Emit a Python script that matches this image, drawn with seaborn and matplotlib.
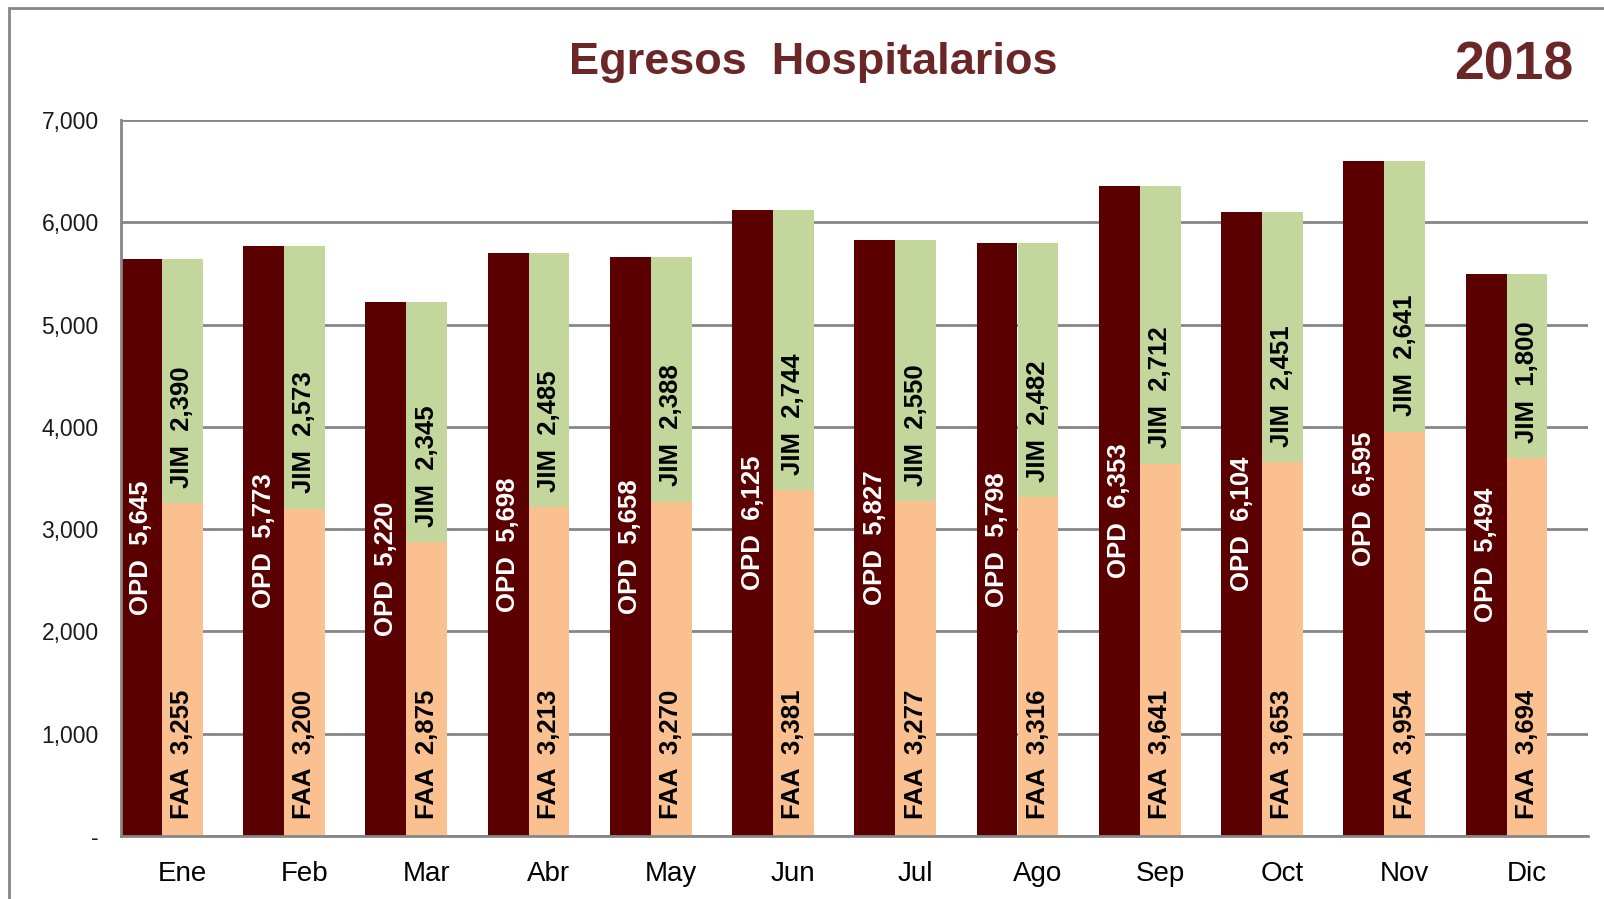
import matplotlib
matplotlib.use("Agg")
import matplotlib.pyplot as plt
import matplotlib.patches as mpatches
from matplotlib.ticker import FixedLocator
import seaborn as sns
import pandas as pd

# data
meses = ['Ene', 'Feb', 'Mar', 'Abr', 'May', 'Jun', 'Jul', 'Ago', 'Sep', 'Oct', 'Nov', 'Dic']
opd = [5645, 5773, 5220, 5698, 5658, 6125, 5827, 5798, 6353, 6104, 6595, 5494]
faa = [3255, 3200, 2875, 3213, 3270, 3381, 3277, 3316, 3641, 3653, 3954, 3694]
jim = [2390, 2573, 2345, 2485, 2388, 2744, 2550, 2482, 2712, 2451, 2641, 1800]
yticks = [0, 1000, 2000, 3000, 4000, 5000, 6000, 7000]

c_opd = '#5a0000'
c_jim = '#c3d69b'
c_faa = '#fac090'
c_grid = '#868686'
c_title = '#6b2727'

sns.set_style('white')
plt.rcParams['font.family'] = ['Liberation Sans', 'DejaVu Sans']

total = [f + j for f, j in zip(faa, jim)]
df1 = pd.DataFrame({'mes': meses * 2,
                    'serie': ['OPD'] * 12 + ['DER'] * 12,
                    'valor': opd + total})
df2 = pd.DataFrame({'mes': meses * 2,
                    'serie': ['OPD'] * 12 + ['DER'] * 12,
                    'valor': [0] * 12 + faa})

fig = plt.figure(figsize=(16.04, 8.99), dpi=100)
ax = fig.add_axes([121 / 1604, 1 - 836 / 899, (1588 - 121) / 1604, (836 - 120) / 899])

sns.barplot(data=df1, x='mes', y='valor', hue='serie', hue_order=['OPD', 'DER'],
            order=meses, palette={'OPD': c_opd, 'DER': c_jim}, width=0.667,
            saturation=1, linewidth=0, legend=False, ax=ax, zorder=3)
sns.barplot(data=df2, x='mes', y='valor', hue='serie', hue_order=['OPD', 'DER'],
            order=meses, palette={'OPD': c_opd, 'DER': c_faa}, width=0.667,
            saturation=1, linewidth=0, legend=False, ax=ax, zorder=3)

# the pair of bars sits at the left of each category, like the Excel original
for p in ax.patches:
    p.set_x(p.get_x() - 1 / 6)

# labels inside the bars
bars_opd = ax.containers[0]
bars_der = ax.containers[1]
lab_kw = dict(rotation=90, ha='center', fontsize=18.5, fontweight='bold', zorder=5)
for i in range(len(meses)):
    xo = bars_opd[i].get_x() + bars_opd[i].get_width() / 2
    xd = bars_der[i].get_x() + bars_der[i].get_width() / 2
    ax.text(xo, opd[i] / 2, f'OPD  {opd[i]:,}', va='center', color='white', **lab_kw)
    ax.annotate(f'FAA  {faa[i]:,}', (xd, 0), xytext=(0, 12), textcoords='offset points',
                va='bottom', color='black', **lab_kw)
    ax.annotate(f'JIM  {jim[i]:,}', (xd, faa[i]), xytext=(0, 11), textcoords='offset points',
                va='bottom', color='black', **lab_kw)

ax.set_xlim(-0.5, len(meses) - 0.5)
ax.set_ylim(0, 7000)
ax.set_yticks(yticks)
ax.set_yticklabels(['-' if v == 0 else f'{v:,}' for v in yticks])
ax.set_xlabel('')
ax.set_ylabel('')

ax.xaxis.set_minor_locator(FixedLocator([i - 0.5 for i in range(len(meses) + 1)]))
ax.tick_params(axis='x', which='major', length=0, labelsize=20, pad=18, colors='black')
ax.tick_params(axis='x', which='minor', length=8, width=2, color=c_grid, direction='out')
ax.tick_params(axis='y', length=6, width=2, color=c_grid, labelsize=16.5, pad=10,
               labelcolor='#1a1a1a', direction='out')

ax.grid(axis='y', color=c_grid, linewidth=2, zorder=0)
ax.set_axisbelow(True)
for s in ['top', 'right']:
    ax.spines[s].set_visible(False)
for s in ['left', 'bottom']:
    ax.spines[s].set_color(c_grid)
    ax.spines[s].set_linewidth(2)
    ax.spines[s].set_zorder(4)

fig.text(0.507, 0.93, 'Egresos  Hospitalarios', ha='center', va='center',
         fontsize=32.5, fontweight='bold', color=c_title)
fig.text(0.944, 0.927, '2018', ha='center', va='center',
         fontsize=38.5, fontweight='bold', color=c_title)

# outer chart frame (runs past the right and bottom edges)
fig.patches.append(mpatches.Rectangle((9 / 1604, -0.1), 1.2, 1.1 - 8 / 899, fill=False,
                                      edgecolor=c_grid, linewidth=2,
                                      transform=fig.transFigure, figure=fig))

fig.savefig('out.png', dpi=100)
